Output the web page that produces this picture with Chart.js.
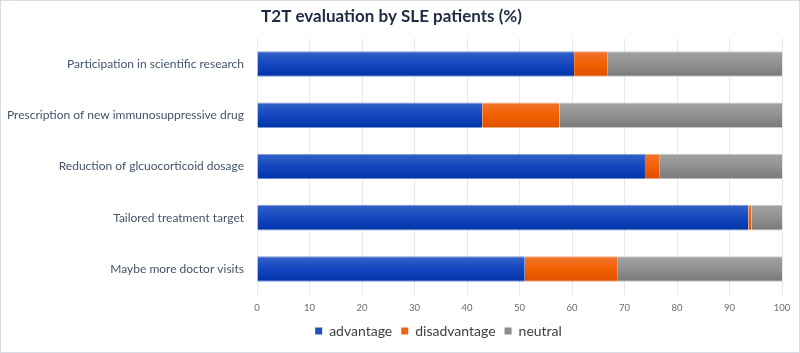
<!DOCTYPE html>
<html><head><meta charset="utf-8">
<script src="https://cdn.jsdelivr.net/npm/chart.js@4/dist/chart.umd.min.js"></script>
<style>
html,body{margin:0;padding:0;background:#fff;}
#wrap{width:800px;height:353px;box-sizing:border-box;border:1px solid #d9dde3;position:relative;}
canvas{display:block;}
</style></head>
<body><div id="wrap"><canvas id="c" width="798" height="351"></canvas></div>
<script>
const categories = ["Participation in scientific research","Prescription of new immunosuppressive drug","Reduction of glcuocorticoid dosage","Tailored treatment target","Maybe more doctor visits"];
const advantage = [60.4, 42.9, 73.9, 93.6, 51.0];
const disadvantage = [6.3, 14.7, 2.7, 0.6, 17.6];
const neutral = [33.3, 42.4, 23.4, 5.8, 31.4];
const xTicks = [0,10,20,30,40,50,60,70,80,90,100];

function grad(top, mid, bottom){
  return function(ctx){
    const chart = ctx.chart;
    const ys = chart.scales && chart.scales.y;
    if(!ys || ctx.dataIndex === undefined || !isFinite(ys.getPixelForValue(ctx.dataIndex))) return mid;
    const cy = ys.getPixelForValue(ctx.dataIndex);
    const h = ys.height / categories.length * 0.5;
    const g = chart.ctx.createLinearGradient(0, cy - h/2, 0, cy + h/2);
    g.addColorStop(0, top); g.addColorStop(0.5, mid); g.addColorStop(1, bottom);
    return g;
  };
}
const shiftLegend = {
  id: 'shiftLegend',
  beforeUpdate(chart){
    const lg = chart.legend;
    if (lg && !lg._patched) {
      const orig = lg.fit;
      lg.fit = function(){ orig.call(this); this.height = 30; };
      lg._patched = true;
    }
  },
  afterLayout(chart){ if (chart.legend) { chart.legend.left += 94; chart.legend.top = 314; } }
};
new Chart(document.getElementById('c'), {
  type: 'bar',
  data: {
    labels: categories,
    datasets: [
      {label:'advantage', data: advantage, backgroundColor: grad('#3462c6','#1447bf','#0032a6'), borderColor:'#7d98d8', borderWidth:{top:1,bottom:1,left:0,right:0}},
      {label:'disadvantage', data: disadvantage, backgroundColor: grad('#f07432','#f26000','#de4f00'), borderColor:'#f4a77a', borderWidth:{top:1,bottom:1,left:0,right:0}},
      {label:'neutral', data: neutral, backgroundColor: grad('#a2a2a2','#919191','#787878'), borderColor:'#c8c8c8', borderWidth:{top:1,bottom:1,left:0,right:0}}
    ]
  },
  plugins: [shiftLegend],
  options: {
    indexAxis: 'y',
    responsive: false,
    animation: false,
    layout: {padding: {left: 0, right: 17, top: 2, bottom: 0}},
    datasets: {bar: {categoryPercentage: 1.0, barPercentage: 0.5}},
    plugins: {
      title: {display: true, text: 'T2T evaluation by SLE patients (%)', color: '#1f2a44', font: {family: 'Lato', size: 17, weight: 'bold'}, padding: {top: 3, bottom: 12}},
      legend: {position: 'bottom', labels: {
        color: '#404040', font: {family: 'Lato', size: 14}, boxWidth: 7, boxHeight: 7, padding: 9,
        generateLabels: function(chart){
          const cols = ['#1f4fbf','#f26216','#8c8c8c'];
          return chart.data.datasets.map((d,i)=>({text:d.label, fillStyle: cols[i], strokeStyle: cols[i], lineWidth:0, datasetIndex:i, hidden:false, fontColor:'#404040'}));
        }
      }},
      tooltip: {enabled: false}
    },
    scales: {
      x: {
        stacked: true, min: 0, max: 100,
        afterBuildTicks: function(s){ s.ticks = xTicks.map(v=>({value:v})); },
        grid: {color: '#e3e8f0', drawTicks: false},
        border: {display: false},
        ticks: {color: '#6b6b6b', font: {family: 'Lato', size: 9.5}, padding: 8}
      },
      y: {
        stacked: true,
        grid: {display: false},
        border: {display: false},
        ticks: {color: '#44546a', font: {family: 'Lato', size: 12}, padding: 5},
        afterFit: function(s){ s.width = 256; }
      }
    }
  }
});
</script></body></html>
